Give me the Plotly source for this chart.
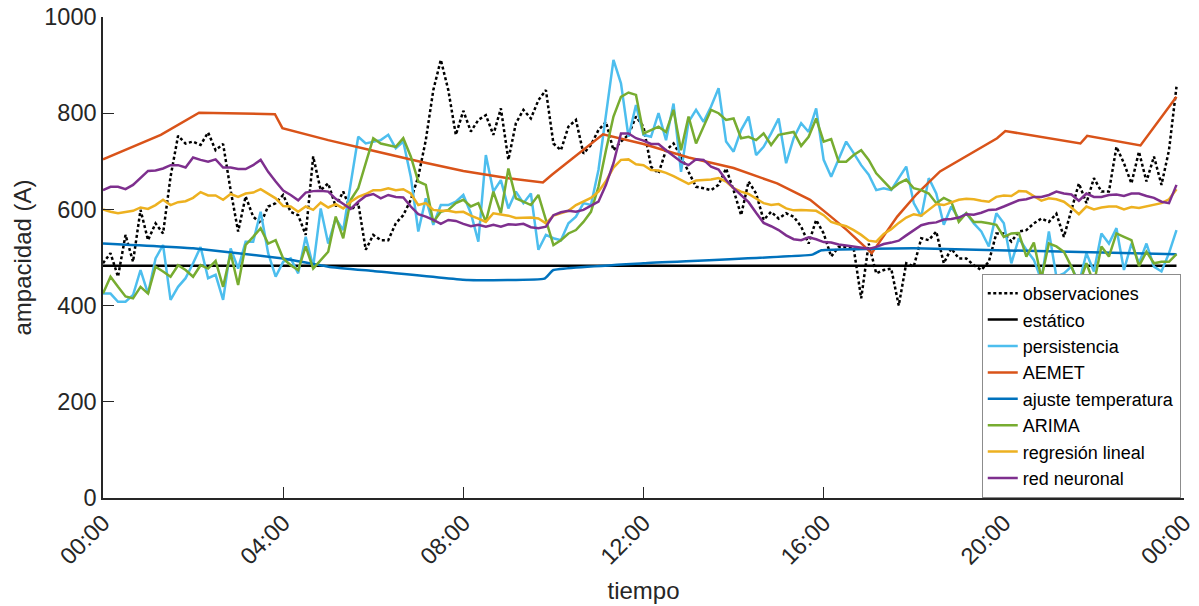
import numpy as np
import pandas as pd
import plotly.graph_objects as go

# --- time base: one day sampled every 10 minutes (00:00 .. 23:50) ---
day = pd.Timestamp("2018-07-15")
t10 = day + pd.to_timedelta(np.arange(144) * 10, unit="min")

# --- series values (A) on the 10-minute grid ---
observaciones = [
    488, 509, 460, 547, 491, 599, 536, 571, 550, 668, 753, 737, 741, 734, 760, 723,
    736, 640, 554, 627, 585, 571, 606, 613, 630, 595, 588, 547, 710, 640, 654, 606,
    637, 599, 613, 516, 547, 536, 536, 571, 588, 620, 668, 744, 848, 911, 848, 755,
    805, 762, 786, 796, 755, 810, 703, 779, 807, 789, 827, 848, 737, 723, 772, 786,
    716, 734, 765, 782, 723, 741, 755, 793, 772, 689, 675, 723, 737, 710, 678, 647,
    644, 640, 651, 685, 640, 588, 658, 633, 578, 595, 581, 592, 585, 564, 529, 578,
    550, 502, 522, 522, 519, 415, 529, 467, 474, 477, 400, 488, 481, 540, 536, 554,
    488, 519, 498, 498, 484, 474, 491, 550, 550, 533, 554, 557, 571, 581, 574, 591,
    543, 599, 654, 613, 665, 637, 637, 730, 696, 654, 720, 658, 710, 651, 723, 855,
]

persistencia = [
    425, 425, 408, 408, 422, 474, 425, 498, 526, 412, 439, 457, 488, 522, 457, 464,
    412, 519, 477, 533, 533, 595, 509, 460, 491, 498, 467, 543, 481, 602, 529, 581,
    557, 654, 751, 737, 741, 744, 755, 727, 741, 668, 554, 623, 568, 609, 609, 616,
    630, 592, 533, 713, 637, 661, 602, 637, 613, 633, 516, 547, 540, 536, 571, 585,
    613, 609, 682, 793, 911, 862, 751, 817, 755, 751, 800, 744, 820, 678, 782, 807,
    782, 814, 852, 741, 720, 765, 793, 713, 730, 758, 789, 696, 748, 779, 761, 810,
    703, 668, 703, 741, 717, 692, 672, 640, 644, 640, 665, 689, 613, 585, 665, 633,
    568, 606, 581, 592, 571, 554, 523, 592, 571, 488, 540, 516, 495, 453, 554, 460,
    467, 481, 446, 509, 471, 550, 529, 561, 474, 529, 488, 529, 481, 471, 509, 557,
]

arima = [
    425, 460, 439, 419, 415, 439, 425, 481, 471, 460, 484, 474, 460, 484, 477, 493,
    439, 509, 443, 526, 543, 561, 529, 536, 498, 484, 474, 523, 477, 495, 512, 585,
    540, 620, 644, 696, 748, 737, 734, 730, 748, 710, 658, 651, 574, 595, 599, 613,
    620, 606, 613, 574, 637, 592, 685, 623, 616, 609, 630, 578, 526, 536, 550, 557,
    574, 595, 647, 723, 793, 834, 843, 838, 758, 765, 772, 761, 807, 723, 793, 737,
    772, 807, 800, 786, 789, 748, 751, 744, 758, 734, 755, 758, 761, 732, 751, 789,
    741, 746, 699, 699, 713, 723, 703, 675, 658, 642, 654, 662, 644, 640, 633, 613,
    624, 616, 574, 592, 574, 574, 571, 568, 543, 550, 551, 502, 531, 457, 529, 523,
    512, 481, 443, 488, 446, 523, 502, 550, 543, 536, 482, 512, 488, 491, 491, 507,
]

regresion_lineal = [
    600, 595, 592, 594, 597, 604, 601, 609, 620, 609, 615, 617, 624, 636, 629, 629,
    620, 632, 626, 633, 635, 642, 632, 623, 607, 606, 595, 606, 599, 614, 604, 611,
    602, 616, 626, 632, 640, 640, 644, 640, 642, 633, 609, 613, 599, 597, 597, 594,
    595, 587, 581, 574, 592, 589, 587, 582, 583, 583, 581, 571, 587, 592, 597, 609,
    617, 624, 637, 659, 687, 703, 704, 694, 692, 682, 681, 676, 669, 661, 653, 660,
    661, 662, 665, 658, 644, 637, 632, 623, 613, 609, 611, 602, 598, 599, 598, 597,
    588, 574, 569, 565, 557, 547, 535, 533, 549, 559, 572, 583, 590, 587, 599, 611,
    609, 614, 620, 622, 621, 618, 616, 626, 629, 628, 638, 637, 628, 618, 623, 621,
    616, 604, 590, 606, 600, 604, 606, 606, 600, 605, 603, 606, 609, 613, 621, 642,
]

red_neuronal = [
    640, 647, 647, 642, 651, 666, 680, 681, 685, 692, 692, 687, 708, 703, 699, 704,
    687, 687, 684, 684, 692, 703, 678, 658, 639, 630, 619, 635, 638, 639, 637, 622,
    611, 601, 616, 628, 632, 623, 630, 626, 625, 606, 590, 585, 578, 570, 578, 576,
    570, 565, 568, 564, 568, 564, 569, 568, 570, 563, 561, 564, 588, 594, 597, 595,
    599, 608, 616, 651, 696, 758, 758, 748, 743, 736, 736, 723, 710, 699, 692, 704,
    703, 689, 683, 661, 644, 630, 615, 593, 572, 565, 557, 546, 538, 536, 542, 538,
    532, 531, 527, 525, 523, 521, 518, 522, 528, 531, 535, 546, 557, 567, 571, 573,
    579, 580, 583, 590, 589, 593, 599, 600, 606, 613, 619, 621, 626, 626, 630, 637,
    633, 631, 618, 633, 626, 626, 630, 631, 628, 633, 633, 628, 624, 616, 613, 651,
]

# static rating (constant)
estatico = 483

# AEMET-based forecast: breakpoints (time of day, A)
aemet_hora = ["00:00", "01:17", "02:08", "03:49", "03:59", "05:00", "06:00", "07:00",
              "08:00", "09:00", "09:46", "09:58", "11:06", "12:00", "13:00", "14:00",
              "14:58", "15:42", "16:08", "16:31", "17:04", "17:38", "18:04", "18:35",
              "19:51", "20:02", "21:42", "21:51", "23:02", "23:50"]
aemet_val = [704, 755, 801, 798, 769, 744, 722, 700, 680, 665, 656, 672, 756, 736,
             708, 686, 654, 620, 587, 557, 509, 585, 632, 679, 748, 763, 737, 753,
             733, 834]

# temperature-adjusted rating: breakpoints (time of day, A)
ajuste_hora = ["00:00", "02:00", "04:00", "05:00", "06:00", "08:06", "09:48", "10:00",
               "12:00", "15:45", "15:57", "18:00", "23:50"]
ajuste_val = [529, 519, 498, 481, 472, 453, 456, 474, 488, 506, 515, 519, 507]


def at_hours(hhmm):
    return [day + pd.Timedelta(hours=int(s[:2]), minutes=int(s[3:])) for s in hhmm]


# MATLAB default palette
C_CYAN = "#4DBEEE"
C_ORANGE = "#D95319"
C_BLUE = "#0072BD"
C_GREEN = "#77AC30"
C_YELLOW = "#EDB120"
C_PURPLE = "#7E2F8E"

fig = go.Figure()
fig.add_trace(go.Scatter(x=t10, y=observaciones, mode="lines", name="observaciones",
                         line=dict(color="black", width=2.5, dash="3px,2.5px")))
fig.add_trace(go.Scatter(x=[t10[0], t10[-1]], y=[estatico, estatico], mode="lines",
                         name="estático", line=dict(color="black", width=2.5)))
fig.add_trace(go.Scatter(x=t10, y=persistencia, mode="lines", name="persistencia",
                         line=dict(color=C_CYAN, width=2.5)))
fig.add_trace(go.Scatter(x=at_hours(aemet_hora), y=aemet_val, mode="lines", name="AEMET",
                         line=dict(color=C_ORANGE, width=2.5)))
fig.add_trace(go.Scatter(x=at_hours(ajuste_hora), y=ajuste_val, mode="lines",
                         name="ajuste temperatura", line=dict(color=C_BLUE, width=2.5,
                                                              shape="spline", smoothing=0.3)))
fig.add_trace(go.Scatter(x=t10, y=arima, mode="lines", name="ARIMA",
                         line=dict(color=C_GREEN, width=2.5)))
fig.add_trace(go.Scatter(x=t10, y=regresion_lineal, mode="lines", name="regresión lineal",
                         line=dict(color=C_YELLOW, width=2.5)))
fig.add_trace(go.Scatter(x=t10, y=red_neuronal, mode="lines", name="red neuronal",
                         line=dict(color=C_PURPLE, width=2.5)))

AX = "#262626"
FONT = "Arial, 'Liberation Sans', sans-serif"

fig.update_layout(
    width=1199, height=606,
    margin=dict(l=103, r=15, t=17, b=108),
    plot_bgcolor="white", paper_bgcolor="white",
    font=dict(family=FONT, color=AX),
    showlegend=True,
    legend=dict(x=0.997, xanchor="right", y=0, yanchor="bottom",
                bgcolor="white", bordercolor="#8c8c8c", borderwidth=1,
                font=dict(size=18, color="black"), tracegroupgap=0),
    xaxis=dict(
        range=[day, day + pd.Timedelta(days=1)],
        tick0=day, dtick=4 * 3600 * 1000, tickformat="%H:%M",
        tickangle=-45, tickfont=dict(size=23.5, color=AX),
        ticks="inside", ticklen=11, tickcolor=AX, tickwidth=1,
        showline=True, linecolor=AX, linewidth=1.5,
        showgrid=False, zeroline=False, automargin=False,
        title=dict(text="tiempo", font=dict(size=24, color=AX), standoff=14),
    ),
    yaxis=dict(
        range=[0, 1000], tick0=0, dtick=200,
        tickfont=dict(size=23.5, color=AX),
        ticks="inside", ticklen=11, tickcolor=AX, tickwidth=1,
        showline=True, linecolor=AX, linewidth=1.5,
        showgrid=False, zeroline=False, automargin=False,
        title=dict(text="ampacidad (A)", font=dict(size=24, color=AX), standoff=6),
    ),
)

fig.write_html("out.html")
